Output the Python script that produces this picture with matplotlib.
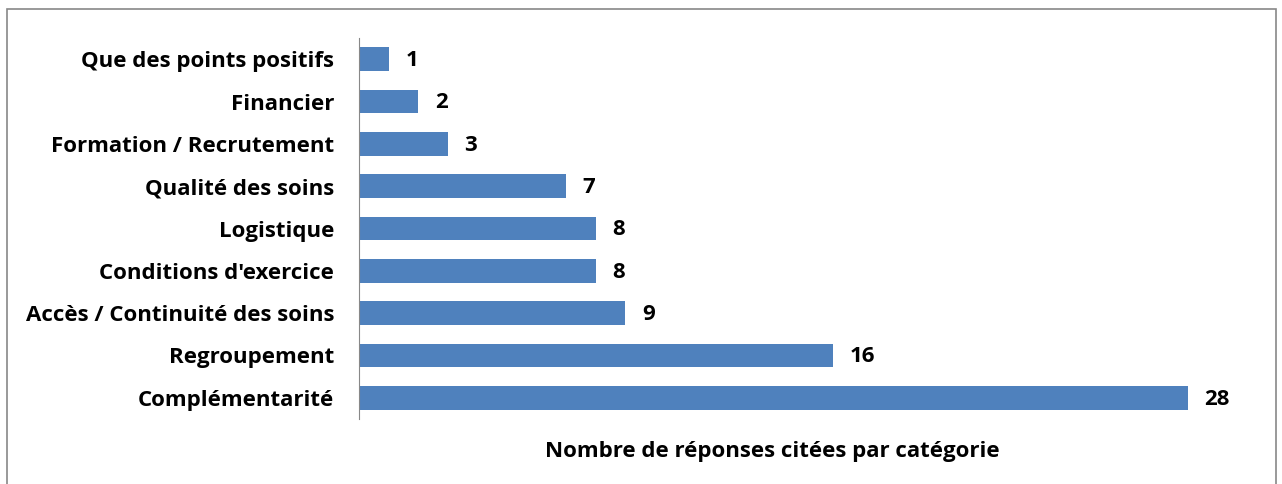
import matplotlib.pyplot as plt
from matplotlib.patches import Rectangle

categories = ['Complémentarité', 'Regroupement', 'Accès / Continuité des soins',
              "Conditions d'exercice", 'Logistique', 'Qualité des soins',
              'Formation / Recrutement', 'Financier', 'Que des points positifs']
counts = [28, 16, 9, 8, 8, 7, 3, 2, 1]

plt.rcParams['font.family'] = ['Open Sans', 'DejaVu Sans']

fig = plt.figure(figsize=(12.82, 4.84), dpi=100)
ax = fig.add_axes([359 / 1282, 1 - 419 / 484, 888 / 1282, 381 / 484])

pos = range(len(categories))
ax.barh(pos, counts, height=0.56, color='#4F81BD')
for y, v in zip(pos, counts):
    ax.annotate(str(v), (v, y), xytext=(12, -1), textcoords='offset points',
                va='center', ha='left', fontsize=16, fontweight='bold')

ax.set_xlim(0, 30)
ax.set_ylim(-0.5, len(categories) - 0.5)
ax.set_yticks(list(pos))
ax.set_yticklabels(categories, fontsize=16, fontweight='bold')
ax.tick_params(axis='y', length=0, pad=18)
ax.set_xticks([])
for side in ['top', 'right', 'bottom']:
    ax.spines[side].set_visible(False)
ax.spines['left'].set_color('#888888')

fig.text(772 / 1282, 1 - 451 / 484, 'Nombre de réponses citées par catégorie',
         ha='center', va='center', fontsize=16, fontweight='bold')

fig.patches.append(Rectangle((7 / 1282, -0.1), 1269 / 1282, 1.1 - 9 / 484,
                             transform=fig.transFigure, fill=False,
                             edgecolor='#888888', linewidth=1.2))

fig.savefig('out.png', dpi=100)
